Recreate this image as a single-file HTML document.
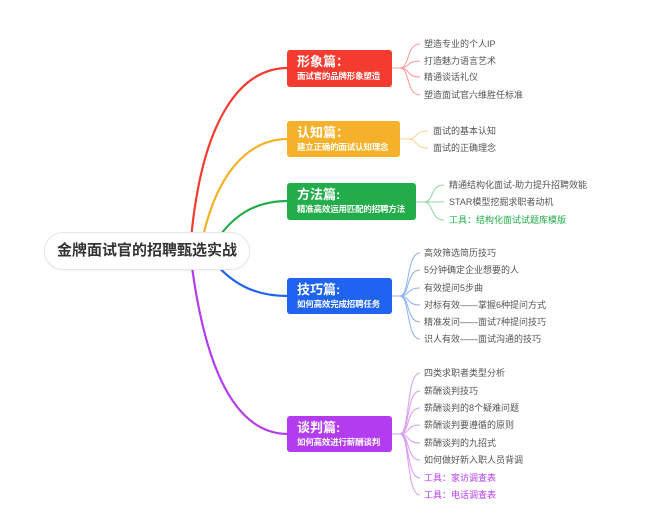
<!DOCTYPE html>
<html><head><meta charset="utf-8"><style>
body{margin:0;width:659px;height:518px;background:#fff;overflow:hidden;position:relative;font-family:"Liberation Sans","Noto Sans CJK SC",sans-serif}
.b{position:absolute;border-radius:3px;color:#fff;padding:0 0 0 10px;box-sizing:border-box;white-space:nowrap;overflow:hidden}
.b .t{font-size:13px;font-weight:bold;margin-top:4px;line-height:16px}
.b .s{font-size:8.5px;line-height:13px;font-weight:bold;letter-spacing:-0.2px}
.l{position:absolute;font-size:9px;color:#555;line-height:12px;white-space:nowrap}
.root{position:absolute;left:44px;top:232px;width:206px;height:38px;border:1px solid #e6e6e6;border-radius:20px;box-sizing:border-box;font-size:15px;font-weight:bold;color:#333;text-align:center;line-height:36px;background:#fff;box-shadow:0 1px 2px rgba(0,0,0,.05)}
</style></head><body>
<svg width="659" height="518" style="position:absolute;left:0;top:0" fill="none" stroke-width="2.2">
<path d="M190 251 C200 120 240 68 288 68" stroke="#f43b2f"/>
<path d="M200 251 C215 170 250 139 288 139" stroke="#f5b12a"/>
<path d="M210 251 C230 215 255 201 288 201" stroke="#23ad4a"/>
<path d="M205 251 C230 285 255 296 288 296" stroke="#1e64f0"/>
<path d="M190 251 C205 380 240 434 288 434" stroke="#b43cf0"/>
<g stroke-width="1">
<g stroke="#f89a92"><path d="M392 68H400C410 68 406 44 420 44M400 68C410 68 406 61 420 61M400 68C410 68 406 77 420 77M400 68C410 68 406 95 420 95"/></g>
<g stroke="#f9d58d"><path d="M400 139H408C418 139 414 131 428 131M408 139C418 139 414 148 428 148"/></g>
<g stroke="#8fd6a1"><path d="M416 202H424C434 202 430 185 444 185M424 202C434 202 430 202 444 202M424 202C434 202 430 220 444 220"/></g>
<g stroke="#8cb1f7"><path d="M392 296H400C410 296 406 253 420 253M400 296C410 296 406 270 420 270M400 296C410 296 406 288 420 288M400 296C410 296 406 305 420 305M400 296C410 296 406 322 420 322M400 296C410 296 406 339 420 339"/></g>
<g stroke="#d99af5"><path d="M392 434H400C410 434 406 373 420 373M400 434C410 434 406 391 420 391M400 434C410 434 406 408 420 408M400 434C410 434 406 425 420 425M400 434C410 434 406 443 420 443M400 434C410 434 406 460 420 460M400 434C410 434 406 478 420 478M400 434C410 434 406 495 420 495"/></g>
</g>
</svg>
<div class="root">金牌面试官的招聘甄选实战</div>
<div class="b" style="left:287px;top:50px;width:105px;height:37px;background:#f43b2f"><div class="t">形象篇：</div><div class="s">面试官的品牌形象塑造</div></div>
<div class="b" style="left:287px;top:121px;width:113px;height:36px;background:#f5b12a"><div class="t">认知篇：</div><div class="s">建立正确的面试认知理念</div></div>
<div class="b" style="left:287px;top:183px;width:129px;height:37px;background:#23ad4a"><div class="t">方法篇:</div><div class="s">精准高效运用匹配的招聘方法</div></div>
<div class="b" style="left:287px;top:278px;width:105px;height:36px;background:#1e64f0"><div class="t">技巧篇:</div><div class="s">如何高效完成招聘任务</div></div>
<div class="b" style="left:287px;top:416px;width:105px;height:36px;background:#b43cf0"><div class="t">谈判篇:</div><div class="s">如何高效进行薪酬谈判</div></div>

<div class="l" style="left:424px;top:38px">塑造专业的个人IP</div>
<div class="l" style="left:424px;top:55px">打造魅力语言艺术</div>
<div class="l" style="left:424px;top:71px">精通谈话礼仪</div>
<div class="l" style="left:424px;top:89px">塑造面试官六维胜任标准</div>

<div class="l" style="left:433px;top:125px">面试的基本认知</div>
<div class="l" style="left:433px;top:142px">面试的正确理念</div>

<div class="l" style="left:449px;top:179px">精通结构化面试-助力提升招聘效能</div>
<div class="l" style="left:449px;top:196px">STAR模型挖掘求职者动机</div>
<div class="l" style="left:449px;top:214px;color:#23ad4a">工具：结构化面试试题库模版</div>

<div class="l" style="left:424px;top:247px">高效筛选简历技巧</div>
<div class="l" style="left:424px;top:264px">5分钟确定企业想要的人</div>
<div class="l" style="left:424px;top:282px">有效提问5步曲</div>
<div class="l" style="left:424px;top:299px">对标有效——掌握6种提问方式</div>
<div class="l" style="left:424px;top:316px">精准发问——面试7种提问技巧</div>
<div class="l" style="left:424px;top:333px">识人有效——面试沟通的技巧</div>

<div class="l" style="left:424px;top:367px">四类求职者类型分析</div>
<div class="l" style="left:424px;top:385px">薪酬谈判技巧</div>
<div class="l" style="left:424px;top:402px">薪酬谈判的8个疑难问题</div>
<div class="l" style="left:424px;top:419px">薪酬谈判要遵循的原则</div>
<div class="l" style="left:424px;top:437px">薪酬谈判的九招式</div>
<div class="l" style="left:424px;top:454px">如何做好新入职人员背调</div>
<div class="l" style="left:424px;top:472px;color:#b43cf0">工具：家访调查表</div>
<div class="l" style="left:424px;top:489px;color:#b43cf0">工具：电话调查表</div>
</body></html>
